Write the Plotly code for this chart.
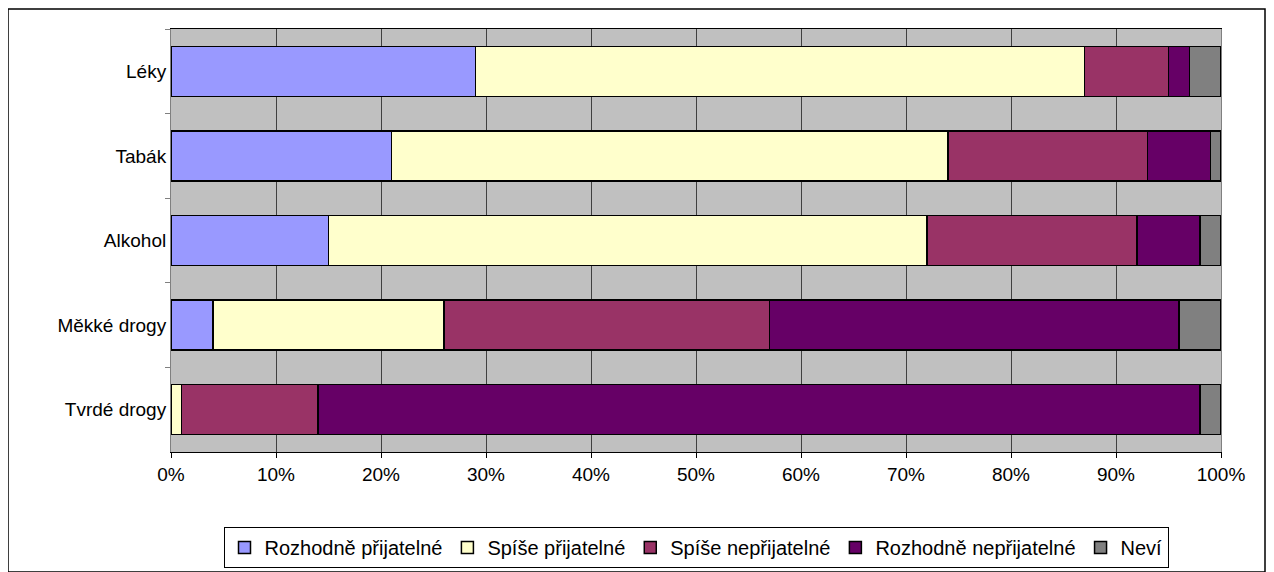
import plotly.graph_objects as go

# categories top to bottom
categories = ["Léky", "Tabák", "Alkohol", "Měkké drogy", "Tvrdé drogy"]

series_names = ["Rozhodně přijatelné", "Spíše přijatelné", "Spíše nepřijatelné",
                "Rozhodně nepřijatelné", "Neví"]

rozhodne_prij = [29, 21, 15, 4, 0]
spise_prij = [58, 53, 57, 22, 1]
spise_neprij = [8, 19, 20, 31, 13]
rozhodne_neprij = [2, 6, 6, 39, 84]
nevi = [3, 1, 2, 4, 2]

tick_vals = [0, 10, 20, 30, 40, 50, 60, 70, 80, 90, 100]
tick_text = ["0%", "10%", "20%", "30%", "40%", "50%", "60%", "70%", "80%", "90%", "100%"]

colors = ["#9999FF", "#FFFFCC", "#993366", "#660066", "#808080"]

fig = go.Figure()
for name, vals, col in zip(series_names,
                           [rozhodne_prij, spise_prij, spise_neprij, rozhodne_neprij, nevi],
                           colors):
    fig.add_trace(go.Bar(
        y=categories,
        x=vals,
        name=name,
        orientation='h',
        marker=dict(color=col, line=dict(color='black', width=1.5)),
    ))

# page has an 8px body margin, so the figure is drawn 8px in
W, H = 1258, 564
L, T = 163, 21
PW, PH = 1050, 423

fig.update_layout(
    barmode='stack',
    bargap=0.41,
    width=W,
    height=H,
    margin=dict(l=L, r=W - L - PW, t=T, b=H - T - PH),
    plot_bgcolor='#C0C0C0',
    paper_bgcolor='white',
    font=dict(family="Liberation Sans, Arial", size=19, color='black'),
    legend=dict(
        orientation='h',
        x=0.5, xanchor='center',
        yref='container',
        y=(H - 519) / H, yanchor='top',
        bordercolor='black', borderwidth=1,
        font=dict(size=20),
        traceorder='normal',
        itemwidth=30,
        tracegroupgap=0,
    ),
    shapes=[dict(
        type='rect', xref='paper', yref='paper',
        x0=-L / PW, x1=(W - 1 - L) / PW,
        y0=-(H - T - PH) / PH, y1=(PH + T - 1) / PH,
        line=dict(color='black', width=1.5), layer='below',
    )],
)

fig.update_xaxes(
    range=[0, 100],
    tickvals=tick_vals,
    ticktext=tick_text,
    showgrid=True,
    gridcolor='#404040',
    gridwidth=1,
    ticks='outside',
    ticklen=5,
    tickcolor='black',
    showline=True,
    linecolor='black',
    mirror=True,
    zeroline=False,
)

fig.update_yaxes(
    autorange='reversed',
    tickson='boundaries',
    ticks='outside',
    ticklen=5,
    tickcolor='#808080',
    showgrid=False,
    showline=True,
    linecolor='#808080',
    mirror=True,
)

fig.write_html("out.html")
